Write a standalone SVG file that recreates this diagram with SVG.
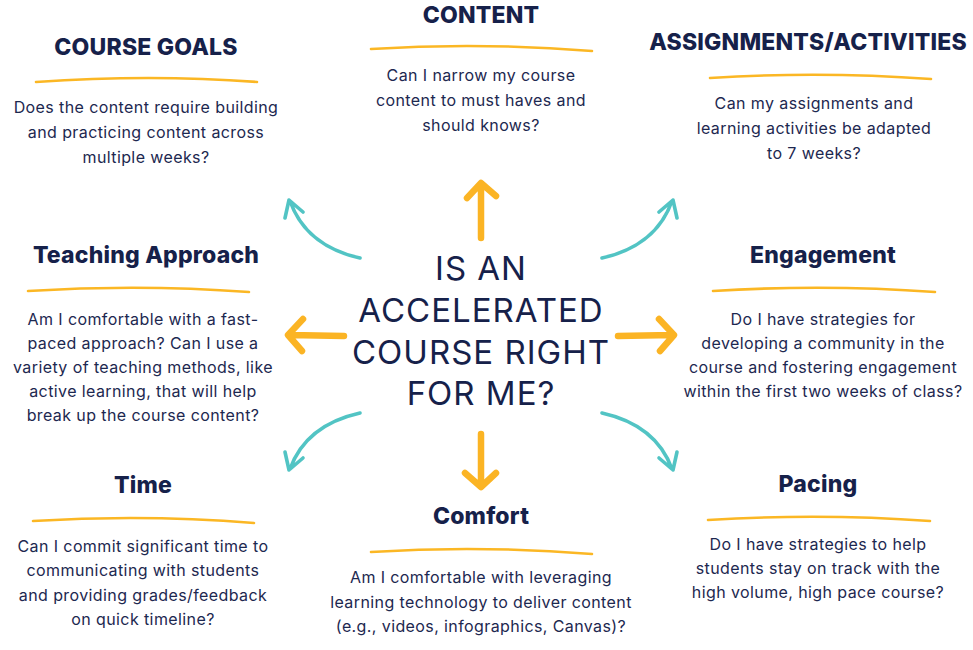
<svg xmlns="http://www.w3.org/2000/svg" width="973" height="650" viewBox="0 0 973 650">
<style>
.h{font-family:Inter,"Liberation Sans",sans-serif;font-weight:800;font-size:23px;fill:#16214a;text-anchor:middle;letter-spacing:0.2px}
.b{font-family:Inter,"Liberation Sans",sans-serif;font-weight:400;font-size:16px;fill:#1d2850;text-anchor:middle;letter-spacing:0.4px}
.t{font-family:Inter,"Liberation Sans",sans-serif;font-weight:400;font-size:33px;fill:#16214a;text-anchor:middle;letter-spacing:1px}
.ul{fill:none;stroke:#fbb724;stroke-width:2.6;stroke-linecap:round}
.or{fill:none;stroke:#fbb424;stroke-width:6.5;stroke-linecap:round;stroke-linejoin:round}
.te{fill:none;stroke:#52c4c4;stroke-width:3.6;stroke-linecap:round;stroke-linejoin:round}
</style>
<rect width="973" height="650" fill="#ffffff"/>

<g id="center">
<text class="t" x="481" y="280">IS AN</text>
<text class="t" x="481" y="322">ACCELERATED</text>
<text class="t" x="481" y="364">COURSE RIGHT</text>
<text class="t" x="481" y="405">FOR ME?</text>
</g>

<g id="connectors">
<path class="or" d="M481,238 L481,184 M467,198 L481,183 L496,196"/>
<path class="or" d="M481,434 L481,486 M465,473 L481,487 L496,473"/>
<path class="or" d="M344,336 L290,335 M303,319 L288,335 L302,351"/>
<path class="or" d="M618,336 L672,335 M659,319 L674,335 L660,351"/>
<path class="te" d="M360,258 Q306,246 290,201 M285,218 L289,200 L303,212"/>
<path class="te" d="M602,258 Q656,246 672,201 M677,218 L673,200 L659,212"/>
<path class="te" d="M360,413 Q306,425 290,469 M285,452 L289,470 L303,458"/>
<path class="te" d="M602,413 Q656,425 672,469 M677,452 L673,470 L659,458"/>
</g>

<g id="course-goals">
<text class="h" x="146" y="55">COURSE GOALS</text>
<path class="ul" d="M36,82 Q150,74 257,82"/>
<text class="b" x="146" y="113">Does the content require building</text>
<text class="b" x="146" y="138">and practicing content across</text>
<text class="b" x="146" y="163">multiple weeks?</text>
</g>

<g id="content">
<text class="h" x="481" y="23">CONTENT</text>
<path class="ul" d="M371,49 Q480,42 592,51"/>
<text class="b" x="481" y="81">Can I narrow my course</text>
<text class="b" x="481" y="106">content to must haves and</text>
<text class="b" x="481" y="131">should knows?</text>
</g>

<g id="assignments">
<text class="h" x="808" y="50">ASSIGNMENTS/ACTIVITIES</text>
<path class="ul" d="M710,78 Q820,71 931,79"/>
<text class="b" x="814" y="109">Can my assignments and</text>
<text class="b" x="814" y="134">learning activities be adapted</text>
<text class="b" x="814" y="159">to 7 weeks?</text>
</g>

<g id="teaching-approach">
<text class="h" x="146" y="263">Teaching Approach</text>
<path class="ul" d="M28,291 Q140,284 249,292"/>
<text class="b" x="143" y="325">Am I comfortable with a fast-</text>
<text class="b" x="143" y="349">paced approach? Can I use a</text>
<text class="b" x="143" y="373">variety of teaching methods, like</text>
<text class="b" x="143" y="397">active learning, that will help</text>
<text class="b" x="143" y="421">break up the course content?</text>
</g>

<g id="engagement">
<text class="h" x="823" y="263">Engagement</text>
<path class="ul" d="M713,291 Q825,284 935,292"/>
<text class="b" x="823" y="325">Do I have strategies for</text>
<text class="b" x="823" y="349">developing a community in the</text>
<text class="b" x="823" y="373">course and fostering engagement</text>
<text class="b" x="823" y="397">within the first two weeks of class?</text>
</g>

<g id="time">
<text class="h" x="143" y="493">Time</text>
<path class="ul" d="M33,521 Q145,514 254,523"/>
<text class="b" x="143" y="552">Can I commit significant time to</text>
<text class="b" x="143" y="576">communicating with students</text>
<text class="b" x="143" y="601">and providing grades/feedback</text>
<text class="b" x="143" y="625">on quick timeline?</text>
</g>

<g id="comfort">
<text class="h" x="481" y="524">Comfort</text>
<path class="ul" d="M371,552 Q480,545 592,554"/>
<text class="b" x="481" y="583">Am I comfortable with leveraging</text>
<text class="b" x="481" y="608">learning technology to deliver content</text>
<text class="b" x="481" y="632">(e.g., videos, infographics, Canvas)?</text>
</g>

<g id="pacing">
<text class="h" x="818" y="492">Pacing</text>
<path class="ul" d="M708,520 Q820,513 930,521"/>
<text class="b" x="818" y="550">Do I have strategies to help</text>
<text class="b" x="818" y="574">students stay on track with the</text>
<text class="b" x="818" y="598">high volume, high pace course?</text>
</g>
</svg>
